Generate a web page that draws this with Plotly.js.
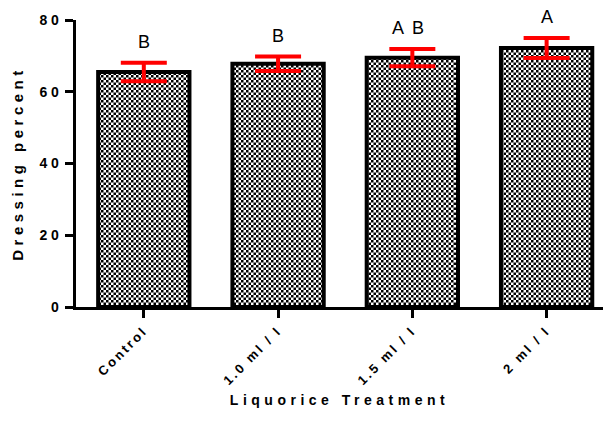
<!DOCTYPE html>
<html>
<head>
<meta charset="utf-8">
<script src="https://cdn.plot.ly/plotly-3.0.1.min.js"></script>
<style>
  html, body { margin: 0; padding: 0; background: #fff; }
  #chart { width: 609px; height: 438px; }
  #chart .xtick text { letter-spacing: 2.5px; }
  #chart .ytick text { letter-spacing: 3.5px; }
  #chart .xtitle { letter-spacing: 4.5px; }
  #chart .ytitle { letter-spacing: 4.5px; }
  #chart .annotation-text { letter-spacing: 2px; }
</style>
</head>
<body>
<div id="chart"></div>
<script>
const categories = ["Control", "1.0 ml / l", "1.5 ml / l", "2 ml / l"];
const means = [65.5, 67.8, 69.5, 72.2];
const errors = [2.6, 2.0, 2.4, 2.8];
const letters = ["B", "B", "A B", "A"];
const yTicks = [0, 20, 40, 60, 80];

const FONT = "Liberation Sans, Arial, sans-serif";

const trace = {
  type: "bar",
  x: categories,
  y: means,
  width: 0.68,
  marker: {
    color: "white",
    line: { color: "black", width: 4 },
    pattern: { shape: ".", fgcolor: "black", bgcolor: "white", size: 6, solidity: 0.5 }
  },
  error_y: {
    type: "data",
    array: errors,
    visible: true,
    color: "#ff0000",
    thickness: 4,
    width: 23
  },
  hoverinfo: "skip"
};

const annotations = categories.map((c, i) => ({
  x: c,
  y: means[i] + errors[i],
  xref: "x",
  yref: "y",
  text: letters[i],
  showarrow: false,
  yanchor: "bottom",
  xshift: letters[i].length > 1 ? -3 : 1,
  yshift: 9,
  font: { family: FONT, size: 18, color: "black" }
}));

const layout = {
  width: 609,
  height: 438,
  margin: { l: 76, r: 6, t: 20, b: 131 },
  paper_bgcolor: "white",
  plot_bgcolor: "white",
  showlegend: false,
  xaxis: {
    type: "category",
    range: [-0.505, 3.42],
    showline: true,
    linecolor: "black",
    linewidth: 3,
    ticks: "outside",
    ticklen: 8,
    tickwidth: 3,
    tickcolor: "black",
    tickangle: -45,
    ticklabelstandoff: 0,
    showgrid: false,
    zeroline: false,
    tickfont: { family: FONT, size: 13, color: "black", weight: "bold" },
    title: { text: "Liquorice Treatment", standoff: 27,
             font: { family: FONT, size: 14, color: "black", weight: "bold" } }
  },
  yaxis: {
    range: [0, 80],
    tickvals: yTicks,
    showline: true,
    linecolor: "black",
    linewidth: 3,
    ticks: "outside",
    ticklen: 8,
    tickwidth: 3,
    tickcolor: "black",
    showgrid: false,
    zeroline: false,
    tickfont: { family: FONT, size: 14, color: "black", weight: "bold" },
    title: { text: "Dressing percent", standoff: 20,
             font: { family: FONT, size: 15, color: "black", weight: "bold" } }
  },
  annotations: annotations
};

function checkerPatterns() {
  const gd = document.getElementById("chart");
  const pats = gd.querySelectorAll("defs pattern");
  const NS = "http://www.w3.org/2000/svg";
  const c = 2.5;
  pats.forEach(p => {
    p.setAttribute("width", 2 * c);
    p.setAttribute("height", 2 * c);
    p.removeAttribute("patternTransform");
    while (p.firstChild) p.removeChild(p.firstChild);
    const mk = (x, y, w, h, f) => {
      const r = document.createElementNS(NS, "rect");
      r.setAttribute("x", x); r.setAttribute("y", y);
      r.setAttribute("width", w); r.setAttribute("height", h);
      r.setAttribute("fill", f);
      p.appendChild(r);
    };
    mk(0, 0, 2 * c, 2 * c, "white");
    mk(0, 0, c, c, "black");
    mk(c, c, c, c, "black");
  });
}

Plotly.newPlot("chart", [trace], layout, { staticPlot: true, displayModeBar: false })
  .then(checkerPatterns);
</script>
</body>
</html>
